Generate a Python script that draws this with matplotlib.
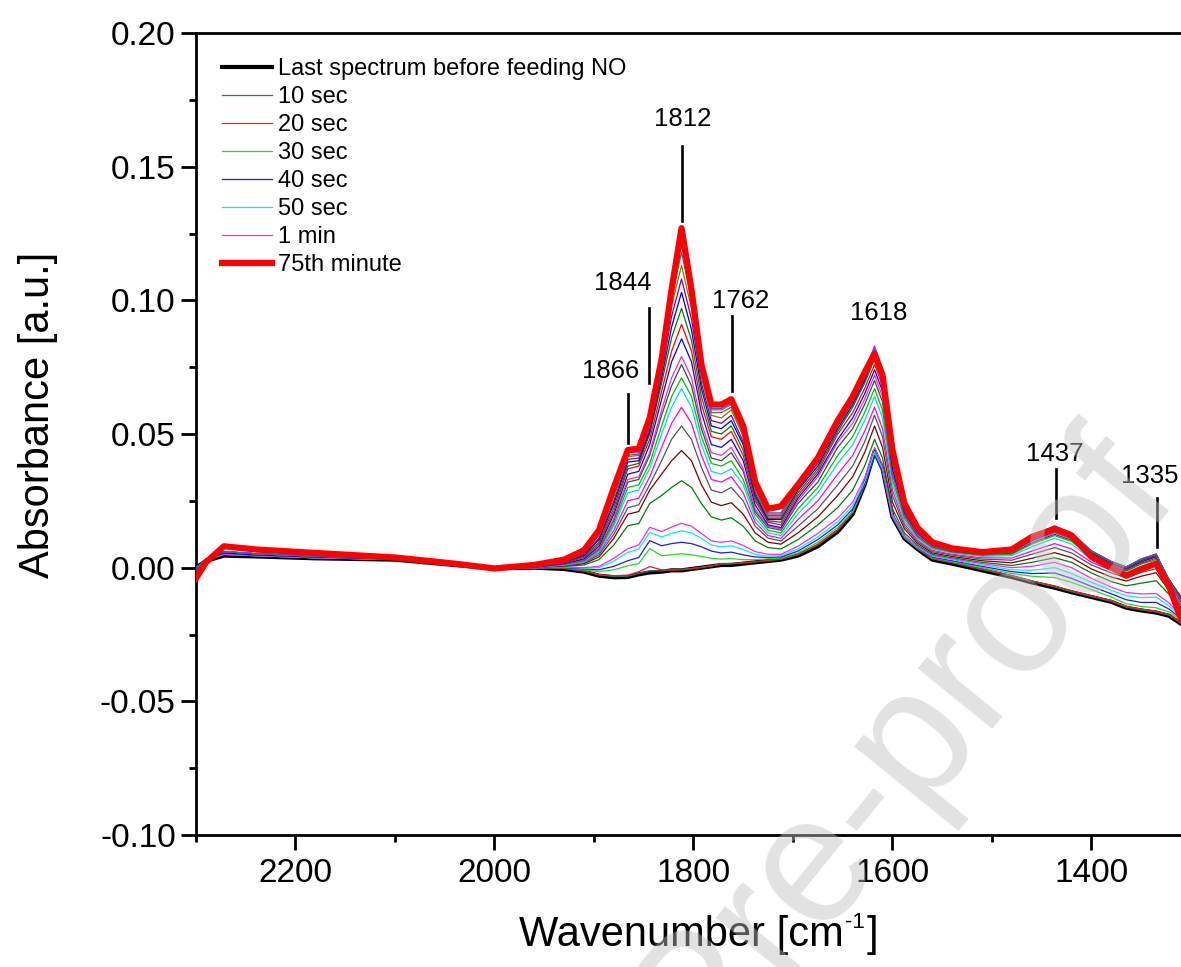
import matplotlib
matplotlib.use("Agg")
import matplotlib.pyplot as plt
from matplotlib.ticker import MultipleLocator, FormatStrFormatter

plt.rcParams['font.family'] = ['Liberation Sans', 'DejaVu Sans']
plt.rcParams['axes.unicode_minus'] = False

# ---------------- data ----------------
wavenumber = [2300, 2290, 2272, 2240, 2180, 2100, 2040, 2000, 1960,
              1930, 1910, 1895, 1880, 1866, 1855, 1844, 1832, 1822, 1812, 1802, 1792, 1782, 1772, 1762, 1750, 1738, 1725, 1712,
              1695, 1675, 1655, 1640, 1628, 1618, 1610, 1600, 1588, 1575,
              1560, 1540, 1510, 1480, 1460, 1437, 1420, 1400, 1380, 1365, 1350, 1335, 1322, 1310]

abs_before = [0.0, 0.0025, 0.0045, 0.0042, 0.0035, 0.003, 0.001, -0.0002, 0.0,
              -0.0005, -0.0015, -0.003, -0.0036, -0.0035, -0.0025, -0.0018, -0.0015, -0.001, -0.001, -0.0005, 0.0, 0.0005, 0.001, 0.001, 0.0015, 0.002, 0.0025, 0.003,
              0.0045, 0.008, 0.0135, 0.020, 0.031, 0.0435, 0.037, 0.019, 0.011, 0.007,
              0.003, 0.0015, -0.001, -0.0035, -0.0055, -0.0075, -0.0092, -0.011, -0.0128, -0.015, -0.016, -0.0168, -0.018, -0.021]
abs_10s = [0.0, 0.0028, 0.005, 0.0045, 0.0037, 0.0031, 0.0011, -0.0001, 0.0,
           -0.0003, -0.0012, -0.0027, -0.0033, -0.0032, -0.0022, -0.0012, -0.0012, -0.0008, -0.0006, -0.0003, 0.0002, 0.0007, 0.0013, 0.0014, 0.0018, 0.0022, 0.0027, 0.0032,
           0.0048, 0.0085, 0.014, 0.0205, 0.031, 0.043, 0.0365, 0.019, 0.0112, 0.0072,
           0.0033, 0.0018, -0.0007, -0.0032, -0.0052, -0.0072, -0.009, -0.0108, -0.0126, -0.0148, -0.0158, -0.0166, -0.0178, -0.0208]
abs_20s = [0.0, 0.0028, 0.005, 0.0045, 0.0037, 0.0031, 0.0011, -0.0001, 0.0,
           -0.0003, -0.0012, -0.0026, -0.003, -0.0028, -0.0015, 0.0004, -0.0008, -0.0009, -0.0008, -0.0004, 0.0, 0.0006, 0.0015, 0.0016, 0.0018, 0.0022, 0.0027, 0.0032,
           0.005, 0.0088, 0.0142, 0.0205, 0.031, 0.0425, 0.036, 0.019, 0.0112, 0.0072,
           0.0035, 0.002, -0.0005, -0.003, -0.005, -0.0068, -0.0087, -0.0105, -0.0123, -0.0145, -0.0155, -0.0163, -0.0175, -0.0205]
abs_30s = [0.0, 0.0028, 0.005, 0.0045, 0.0037, 0.0031, 0.0011, -0.0001, 0.0,
           0.0, -0.0008, -0.0015, -0.0008, 0.0007, 0.0015, 0.0071, 0.0045, 0.0048, 0.0052, 0.0048, 0.0042, 0.0035, 0.0032, 0.0034, 0.003, 0.003, 0.0033, 0.0036,
           0.0055, 0.0095, 0.015, 0.021, 0.031, 0.0425, 0.036, 0.019, 0.0113, 0.0073,
           0.0038, 0.0023, 0.0, -0.0022, -0.0032, -0.0037, -0.0055, -0.0082, -0.011, -0.0135, -0.0145, -0.015, -0.0165, -0.0195]
abs_40s = [0.0, 0.0028, 0.005, 0.0045, 0.0037, 0.0031, 0.0011, -0.0001, 0.0,
           0.0, -0.0005, -0.0008, 0.0005, 0.0026, 0.0038, 0.0101, 0.0082, 0.009, 0.0095, 0.009, 0.0078, 0.0062, 0.0055, 0.0058, 0.0048, 0.004, 0.0038, 0.004,
           0.0062, 0.0105, 0.016, 0.022, 0.031, 0.042, 0.036, 0.0192, 0.0115, 0.0075,
           0.004, 0.0026, 0.0005, -0.0015, -0.0022, -0.002, -0.004, -0.007, -0.0098, -0.012, -0.013, -0.013, -0.0155, -0.019]
abs_50s = [0.0, 0.0028, 0.005, 0.0045, 0.0037, 0.0031, 0.0011, -0.0001, 0.0,
           0.0002, -0.0002, 0.0, 0.0025, 0.0057, 0.007, 0.0132, 0.0115, 0.0128, 0.0138, 0.013, 0.011, 0.0085, 0.0078, 0.0082, 0.0068, 0.005, 0.0043, 0.0045,
           0.007, 0.0115, 0.0172, 0.0232, 0.032, 0.0435, 0.037, 0.0195, 0.0117, 0.0077,
           0.0043, 0.003, 0.001, -0.0008, -0.001, 0.0, -0.0022, -0.0055, -0.0085, -0.0105, -0.0112, -0.011, -0.0143, -0.0185]
abs_1min = [0.0, 0.0028, 0.005, 0.0045, 0.0037, 0.0031, 0.0011, -0.0001, 0.0,
            0.0003, 0.0, 0.0005, 0.0035, 0.0071, 0.0085, 0.0151, 0.0135, 0.0152, 0.0166, 0.0155, 0.0128, 0.010, 0.0095, 0.010, 0.0083, 0.006, 0.005, 0.005,
            0.008, 0.0128, 0.0185, 0.0245, 0.0335, 0.045, 0.038, 0.020, 0.012, 0.008,
            0.0046, 0.0033, 0.0015, 0.0, 0.0005, 0.002, 0.0, -0.004, -0.0073, -0.0093, -0.0098, -0.0097, -0.0132, -0.018]
abs_2min = [-0.0005, 0.003, 0.0055, 0.0048, 0.004, 0.0033, 0.0012, 0.0, 0.0002,
            0.0005, 0.001, 0.003, 0.0085, 0.0157, 0.0165, 0.024, 0.027, 0.030, 0.0325, 0.030, 0.024, 0.019, 0.0178, 0.0187, 0.0155, 0.010, 0.0075, 0.007,
            0.0105, 0.016, 0.0225, 0.029, 0.038, 0.048, 0.041, 0.022, 0.013, 0.0085,
            0.005, 0.0037, 0.002, 0.0008, 0.002, 0.0037, 0.002, -0.002, -0.0052, -0.0068, -0.0058, -0.0049, -0.010, -0.016]
abs_3min = [-0.0005, 0.003, 0.0055, 0.0048, 0.004, 0.0033, 0.0012, 0.0, 0.0002,
            0.0007, 0.0015, 0.004, 0.011, 0.020, 0.021, 0.029, 0.035, 0.040, 0.0438, 0.040, 0.031, 0.0245, 0.0232, 0.0243, 0.020, 0.013, 0.0095, 0.0088,
            0.013, 0.019, 0.027, 0.034, 0.043, 0.053, 0.045, 0.0245, 0.0145, 0.0092,
            0.0055, 0.0042, 0.0026, 0.0018, 0.0035, 0.0056, 0.0038, -0.0005, -0.0035, -0.005, -0.0032, -0.0019, -0.0085, -0.015]
abs_4min = [-0.0005, 0.003, 0.0055, 0.0048, 0.004, 0.0033, 0.0012, 0.0, 0.0002,
            0.0008, 0.0018, 0.0048, 0.0125, 0.0224, 0.0235, 0.031, 0.040, 0.048, 0.053, 0.048, 0.0375, 0.029, 0.028, 0.030, 0.025, 0.0155, 0.011, 0.010,
            0.0155, 0.022, 0.031, 0.038, 0.047, 0.057, 0.049, 0.027, 0.0155, 0.0098,
            0.006, 0.0047, 0.0032, 0.0028, 0.005, 0.0075, 0.0055, 0.001, -0.002, -0.0038, -0.0018, -0.0004, -0.0075, -0.014]
abs_5min = [-0.0005, 0.003, 0.0055, 0.0048, 0.004, 0.0033, 0.0012, 0.0, 0.0002,
            0.001, 0.002, 0.0055, 0.014, 0.025, 0.026, 0.034, 0.045, 0.054, 0.060, 0.054, 0.042, 0.033, 0.032, 0.034, 0.028, 0.017, 0.012, 0.011,
            0.018, 0.025, 0.035, 0.042, 0.051, 0.060, 0.052, 0.029, 0.0165, 0.0103,
            0.0065, 0.005, 0.0037, 0.0036, 0.0062, 0.009, 0.007, 0.002, -0.001, -0.003, -0.0005, 0.001, -0.0065, -0.013]
abs_6min = [-0.0005, 0.003, 0.0055, 0.0048, 0.004, 0.0033, 0.0012, 0.0, 0.0002,
            0.001, 0.0022, 0.006, 0.0155, 0.028, 0.029, 0.037, 0.050, 0.060, 0.067, 0.060, 0.046, 0.036, 0.035, 0.037, 0.031, 0.0185, 0.013, 0.012,
            0.020, 0.028, 0.039, 0.046, 0.055, 0.064, 0.056, 0.031, 0.0175, 0.011,
            0.007, 0.0055, 0.0042, 0.0045, 0.0078, 0.011, 0.0088, 0.0032, 0.0, -0.002, 0.0005, 0.002, -0.006, -0.012]
abs_7min = [-0.0005, 0.003, 0.0055, 0.0048, 0.004, 0.0033, 0.0012, 0.0, 0.0002,
            0.0012, 0.0025, 0.0065, 0.0165, 0.030, 0.031, 0.039, 0.053, 0.064, 0.071, 0.064, 0.049, 0.039, 0.038, 0.040, 0.033, 0.020, 0.014, 0.013,
            0.022, 0.030, 0.042, 0.049, 0.058, 0.067, 0.059, 0.033, 0.0185, 0.0115,
            0.0074, 0.0058, 0.0046, 0.005, 0.0088, 0.012, 0.0098, 0.004, 0.0007, -0.0013, 0.0013, 0.003, -0.0055, -0.012]
abs_8min = [-0.0005, 0.003, 0.0055, 0.0048, 0.004, 0.0033, 0.0012, 0.0, 0.0002,
            0.0013, 0.0028, 0.007, 0.0178, 0.032, 0.033, 0.042, 0.057, 0.068, 0.076, 0.068, 0.052, 0.041, 0.040, 0.043, 0.036, 0.021, 0.015, 0.014,
            0.024, 0.032, 0.045, 0.052, 0.061, 0.070, 0.062, 0.035, 0.0195, 0.012,
            0.0078, 0.006, 0.0049, 0.0054, 0.0093, 0.0125, 0.0103, 0.0044, 0.001, -0.001, 0.0017, 0.0035, -0.005, -0.011]
abs_9min = [-0.0005, 0.003, 0.0055, 0.0048, 0.004, 0.0033, 0.0012, 0.0, 0.0002,
            0.0014, 0.003, 0.0073, 0.0185, 0.033, 0.034, 0.043, 0.059, 0.071, 0.079, 0.071, 0.054, 0.043, 0.042, 0.045, 0.037, 0.022, 0.0155, 0.0145,
            0.025, 0.034, 0.047, 0.054, 0.063, 0.072, 0.064, 0.036, 0.020, 0.0125,
            0.008, 0.0063, 0.0052, 0.0058, 0.0098, 0.013, 0.0108, 0.0048, 0.0013, -0.0007, 0.002, 0.004, -0.0048, -0.011]
abs_10min = [-0.0005, 0.003, 0.0055, 0.0048, 0.004, 0.0033, 0.0012, 0.0, 0.0002,
             0.0015, 0.0033, 0.008, 0.020, 0.035, 0.036, 0.046, 0.063, 0.077, 0.0856, 0.077, 0.058, 0.046, 0.045, 0.048, 0.040, 0.0235, 0.016, 0.015,
             0.026, 0.035, 0.048, 0.056, 0.065, 0.074, 0.066, 0.037, 0.0205, 0.013,
             0.0083, 0.0065, 0.0054, 0.0061, 0.0102, 0.0135, 0.0112, 0.0051, 0.0015, -0.0005, 0.0022, 0.0042, -0.0046, -0.011]
abs_15min = [-0.001, 0.0032, 0.006, 0.0052, 0.0043, 0.0034, 0.0013, 0.0, 0.0004,
             0.0017, 0.0038, 0.0088, 0.021, 0.037, 0.038, 0.048, 0.066, 0.081, 0.091, 0.081, 0.061, 0.049, 0.048, 0.051, 0.042, 0.025, 0.017, 0.016,
             0.027, 0.036, 0.050, 0.058, 0.067, 0.076, 0.068, 0.039, 0.021, 0.0133,
             0.0086, 0.0067, 0.0056, 0.0064, 0.0106, 0.014, 0.0116, 0.0054, 0.0017, -0.0003, 0.0025, 0.0045, -0.0045, -0.011]
abs_20min = [-0.001, 0.0032, 0.006, 0.0052, 0.0043, 0.0034, 0.0013, 0.0, 0.0004,
             0.002, 0.0042, 0.0095, 0.0225, 0.038, 0.039, 0.050, 0.069, 0.086, 0.097, 0.085, 0.064, 0.051, 0.050, 0.053, 0.044, 0.026, 0.0175, 0.017,
             0.028, 0.037, 0.051, 0.060, 0.069, 0.078, 0.070, 0.040, 0.0215, 0.0136,
             0.0088, 0.0069, 0.0057, 0.0066, 0.0109, 0.0143, 0.0119, 0.0056, 0.0019, -0.0002, 0.0027, 0.0047, -0.0045, -0.0115]
abs_25min = [-0.001, 0.0032, 0.006, 0.0052, 0.0043, 0.0034, 0.0013, 0.0, 0.0004,
             0.0022, 0.0046, 0.0105, 0.024, 0.0395, 0.040, 0.051, 0.071, 0.090, 0.103, 0.089, 0.067, 0.053, 0.052, 0.055, 0.046, 0.027, 0.018, 0.018,
             0.029, 0.038, 0.052, 0.061, 0.070, 0.0795, 0.071, 0.041, 0.022, 0.014,
             0.009, 0.0071, 0.0058, 0.0068, 0.0112, 0.0146, 0.0122, 0.0058, 0.002, 0.0, 0.0029, 0.0048, -0.0045, -0.012]
abs_30min = [-0.001, 0.0032, 0.006, 0.0052, 0.0043, 0.0034, 0.0013, 0.0, 0.0004,
             0.0024, 0.005, 0.011, 0.025, 0.0405, 0.041, 0.052, 0.073, 0.094, 0.108, 0.093, 0.069, 0.055, 0.054, 0.057, 0.047, 0.028, 0.0185, 0.0185,
             0.0295, 0.039, 0.053, 0.062, 0.071, 0.081, 0.072, 0.042, 0.0225, 0.0142,
             0.0092, 0.0072, 0.0059, 0.007, 0.0115, 0.0149, 0.0125, 0.006, 0.0021, 0.0001, 0.003, 0.0049, -0.0046, -0.012]
abs_40min = [-0.001, 0.0032, 0.006, 0.0052, 0.0043, 0.0034, 0.0013, 0.0, 0.0004,
             0.0026, 0.0055, 0.012, 0.0265, 0.0415, 0.042, 0.053, 0.075, 0.098, 0.113, 0.097, 0.071, 0.057, 0.056, 0.059, 0.049, 0.029, 0.019, 0.019,
             0.030, 0.0395, 0.054, 0.063, 0.072, 0.082, 0.073, 0.0425, 0.023, 0.0145,
             0.0093, 0.0073, 0.006, 0.0071, 0.0117, 0.0151, 0.0127, 0.0061, 0.0022, 0.0002, 0.0031, 0.005, -0.0047, -0.0125]
abs_50min = [-0.001, 0.0032, 0.006, 0.0052, 0.0043, 0.0034, 0.0013, 0.0, 0.0004,
             0.0028, 0.006, 0.0128, 0.028, 0.042, 0.0425, 0.054, 0.076, 0.101, 0.118, 0.100, 0.073, 0.058, 0.058, 0.060, 0.050, 0.030, 0.0195, 0.0195,
             0.0305, 0.040, 0.0545, 0.0635, 0.0725, 0.0825, 0.0735, 0.043, 0.0232, 0.0147,
             0.0094, 0.0074, 0.006, 0.0072, 0.0119, 0.0153, 0.0128, 0.0062, 0.0022, 0.0002, 0.0032, 0.005, -0.0048, -0.0125]
abs_60min = [-0.001, 0.0032, 0.006, 0.0052, 0.0043, 0.0034, 0.0013, 0.0, 0.0004,
             0.003, 0.0063, 0.0133, 0.029, 0.043, 0.043, 0.055, 0.077, 0.103, 0.122, 0.102, 0.074, 0.059, 0.059, 0.061, 0.051, 0.031, 0.020, 0.020,
             0.031, 0.0405, 0.055, 0.064, 0.073, 0.083, 0.074, 0.0435, 0.0235, 0.015,
             0.0095, 0.0075, 0.0061, 0.0073, 0.012, 0.0155, 0.013, 0.0063, 0.0023, 0.0003, 0.0032, 0.0051, -0.0048, -0.013]
abs_70min = [-0.001, 0.0032, 0.006, 0.0052, 0.0043, 0.0034, 0.0013, 0.0, 0.0004,
             0.003, 0.0065, 0.0137, 0.0295, 0.0435, 0.0435, 0.0555, 0.0775, 0.104, 0.125, 0.103, 0.075, 0.0595, 0.0595, 0.0615, 0.0515, 0.031, 0.0205, 0.0205,
             0.031, 0.0405, 0.055, 0.064, 0.073, 0.082, 0.0735, 0.0435, 0.0235, 0.015,
             0.0096, 0.0075, 0.0061, 0.0073, 0.0121, 0.0156, 0.0131, 0.0063, 0.0023, 0.0003, 0.0032, 0.0051, -0.0049, -0.013]
abs_75min = [-0.004, 0.002, 0.008, 0.0068, 0.0055, 0.0038, 0.0015, -0.0003, 0.001,
             0.003, 0.0065, 0.014, 0.030, 0.044, 0.0445, 0.056, 0.078, 0.104, 0.127, 0.104, 0.076, 0.061, 0.061, 0.063, 0.053, 0.032, 0.022, 0.023,
             0.031, 0.041, 0.055, 0.064, 0.073, 0.080, 0.072, 0.044, 0.024, 0.015,
             0.0095, 0.0072, 0.0058, 0.0068, 0.0115, 0.0145, 0.012, 0.004, 0.0, -0.003, -0.0005, 0.0015, -0.007, -0.019]

legend_labels = ['Last spectrum before feeding NO', '10 sec', '20 sec', '30 sec',
                 '40 sec', '50 sec', '1 min', '75th minute']

peak_labels = ['1866', '1844', '1812', '1762', '1618', '1437', '1335']
peak_label_x = [1883, 1871, 1811, 1753, 1614, 1437, 1341]
peak_label_y = [0.0737, 0.1066, 0.168, 0.0999, 0.0954, 0.0426, 0.0344]
marker_x = [1866, 1845, 1812, 1761, 1436, 1334]
marker_y0 = [0.0467, 0.0692, 0.1298, 0.0662, 0.0187, 0.0079]
marker_y1 = [0.0651, 0.0972, 0.1578, 0.0942, 0.0370, 0.0262]

# ---------------- figure ----------------
W, H = 1181, 967
fig = plt.figure(figsize=(W / 100, H / 100), dpi=100)
ax = fig.add_axes([196 / W, 1 - 835 / H, 985 / W, 802 / H])

thin = [
    (abs_10s, '#2f7373', legend_labels[1]),
    (abs_20s, '#ee1c1c', legend_labels[2]),
    (abs_30s, '#22dd22', legend_labels[3]),
    (abs_40s, '#1a1aff', legend_labels[4]),
    (abs_50s, '#00f0f0', legend_labels[5]),
    (abs_1min, '#ff22ff', legend_labels[6]),
    (abs_2min, '#008000', None),
    (abs_3min, '#800000', None),
    (abs_4min, '#555555', None),
    (abs_5min, '#ff00ff', None),
    (abs_6min, '#00e0e0', None),
    (abs_7min, '#00c000', None),
    (abs_8min, '#444444', None),
    (abs_9min, '#dd33dd', None),
    (abs_10min, '#0000ff', None),
    (abs_15min, '#ff0000', None),
    (abs_20min, '#008000', None),
    (abs_25min, '#0000cc', None),
    (abs_30min, '#8000a0', None),
    (abs_40min, '#808000', None),
    (abs_50min, '#606060', None),
    (abs_60min, '#cc33cc', None),
    (abs_70min, '#336699', None),
]

h_before, = ax.plot(wavenumber, abs_before, color='black', lw=3.0, zorder=2,
                    label=legend_labels[0])
handles = [h_before]
for vals, col, lab in thin:
    h, = ax.plot(wavenumber, vals, color=col, lw=0.9, zorder=3)
    if lab is not None:
        h.set_label(lab)
        handles.append(h)
h_final, = ax.plot(wavenumber, abs_75min, color='#ff0000', lw=4.5, zorder=4,
                   solid_joinstyle='round', label=legend_labels[7])
handles.append(h_final)

# peak markers and labels
for x, y0, y1 in zip(marker_x, marker_y0, marker_y1):
    ax.plot([x, x], [y0, y1], color='black', lw=1.9, zorder=5)
for lab, x, y in zip(peak_labels, peak_label_x, peak_label_y):
    ax.text(x, y, lab, fontsize=18.5, ha='center', va='center', zorder=6)

ax.set_xlim(2300, 1310)
ax.set_ylim(-0.10, 0.20)
ax.xaxis.set_major_locator(MultipleLocator(200))
ax.xaxis.set_minor_locator(MultipleLocator(100))
ax.yaxis.set_major_locator(MultipleLocator(0.05))
ax.yaxis.set_minor_locator(MultipleLocator(0.025))
ax.yaxis.set_major_formatter(FormatStrFormatter('%.2f'))
ax.xaxis.set_major_formatter(FormatStrFormatter('%d'))

ax.tick_params(axis='both', which='major', direction='out', length=10.5, width=2,
               labelsize=24, pad=4)
ax.tick_params(axis='both', which='minor', direction='out', length=5, width=2)
ax.tick_params(axis='x', which='major', pad=6)
ax.tick_params(top=False, right=False, which='both')

for s in ['left', 'bottom', 'top']:
    ax.spines[s].set_linewidth(2)
ax.spines['right'].set_visible(False)

ax.set_ylabel('Absorbance [a.u.]', fontsize=30)
ax.yaxis.set_label_coords(-0.140, 0.524)

# x label built from pieces so that the superscript uses a short hyphen
base_y = 21  # baseline, pixels from the bottom of the figure
t1 = fig.text(0, base_y / H, 'Wavenumber [cm', fontsize=30, ha='left', va='baseline')
t2 = fig.text(0, (base_y + 18) / H, '-1', fontsize=16, ha='left', va='baseline')
t3 = fig.text(0, base_y / H, ']', fontsize=30, ha='left', va='baseline')
rend = fig.canvas.get_renderer()
w1 = t1.get_window_extent(rend).width
w2 = t2.get_window_extent(rend).width
w3 = t3.get_window_extent(rend).width
total = w1 + 1 + w2 + 2 + w3
x0 = 699 - total / 2
t1.set_x(x0 / W)
t2.set_x((x0 + w1 + 1) / W)
t3.set_x((x0 + w1 + 1 + w2 + 2) / W)

leg = ax.legend(handles=handles, loc='upper left', bbox_to_anchor=(0.026, 0.969),
                frameon=False, fontsize=17, handlelength=2.14, handletextpad=0.26,
                labelspacing=0.256, borderpad=0, borderaxespad=0)

# watermark
fig.text(1145 / W, 500 / H, 'Journal Pre-proof', fontsize=130, rotation=51,
         rotation_mode='anchor', ha='right', va='center', color='#c0c0c0',
         alpha=0.45, zorder=10)

fig.savefig('out.png', dpi=100)
